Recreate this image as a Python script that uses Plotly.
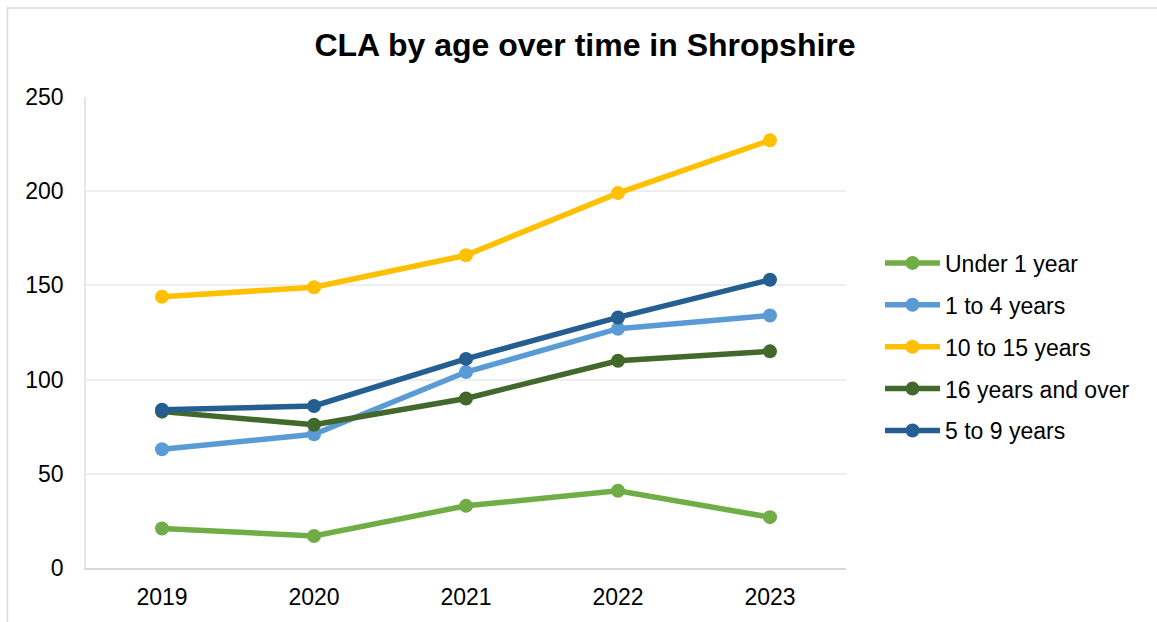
import plotly.graph_objects as go

years = ["2019", "2020", "2021", "2022", "2023"]
series_names = ["Under 1 year", "1 to 4 years", "10 to 15 years", "16 years and over", "5 to 9 years"]
under_1 = [21, 17, 33, 41, 27]
age_1_4 = [63, 71, 104, 127, 134]
age_10_15 = [144, 149, 166, 199, 227]
age_16_plus = [83, 76, 90, 110, 115]
age_5_9 = [84, 86, 111, 133, 153]
colors = ["#70AD47", "#5B9BD5", "#FFC000", "#43682B", "#255E91"]

values = [under_1, age_1_4, age_10_15, age_16_plus, age_5_9]

fig = go.Figure()
for i, (name, vals, col) in enumerate(zip(series_names, values, colors)):
    fig.add_trace(go.Scatter(
        x=years, y=vals, name=name, mode="lines+markers",
        legendgroup=f"g{i}",
        line=dict(color=col, width=5.5),
        marker=dict(color=col, size=14),
    ))

W, H = 1157, 622
L, R, T, B = 86, 846, 97, 570
pw, ph = R - L, B - T

def px(x):
    return (x - L) / pw

def py(y):
    return (B - y) / ph

# outer chart frame: only top and left edges are visible in the reference
fig.add_shape(type="line", xref="paper", yref="paper",
              x0=px(7), x1=px(1160), y0=py(7.5), y1=py(7.5),
              line=dict(color="#D9D9D9", width=1.5), layer="below")
fig.add_shape(type="line", xref="paper", yref="paper",
              x0=px(7.5), x1=px(7.5), y0=py(7), y1=py(625),
              line=dict(color="#D9D9D9", width=1.5), layer="below")

fig.update_layout(
    width=W, height=H,
    margin=dict(l=L, r=W - R, t=T, b=H - B),
    paper_bgcolor="white", plot_bgcolor="white",
    font=dict(family="Liberation Sans, Arial, sans-serif", size=23, color="#000000"),
    title=dict(text="<b>CLA by age over time in Shropshire</b>", xref="container",
               x=585 / W, xanchor="center",
               y=1 - 45 / H, yanchor="middle", font=dict(size=32, color="#000000")),
    showlegend=True,
    legend=dict(x=px(880), xanchor="left", y=py(348), yanchor="middle",
                font=dict(size=23), bgcolor="rgba(0,0,0,0)",
                tracegroupgap=9, itemwidth=55),
    xaxis=dict(type="category", range=[-0.5, 4.5], showgrid=False,
               showline=True, linecolor="#D9D9D9", linewidth=1.5,
               ticks="", tickfont=dict(size=23), ticklabelstandoff=8),
    yaxis=dict(range=[0, 250], dtick=50, showgrid=True, gridcolor="#EEEEEE", gridwidth=1.5,
               showline=True, linecolor="#E6E6E6", linewidth=1.5, zeroline=False,
               ticks="", tickfont=dict(size=23), ticklabelstandoff=16),
)

fig.write_html("out.html", config={"displayModeBar": False},
               post_script="document.body.style.margin='0';")
